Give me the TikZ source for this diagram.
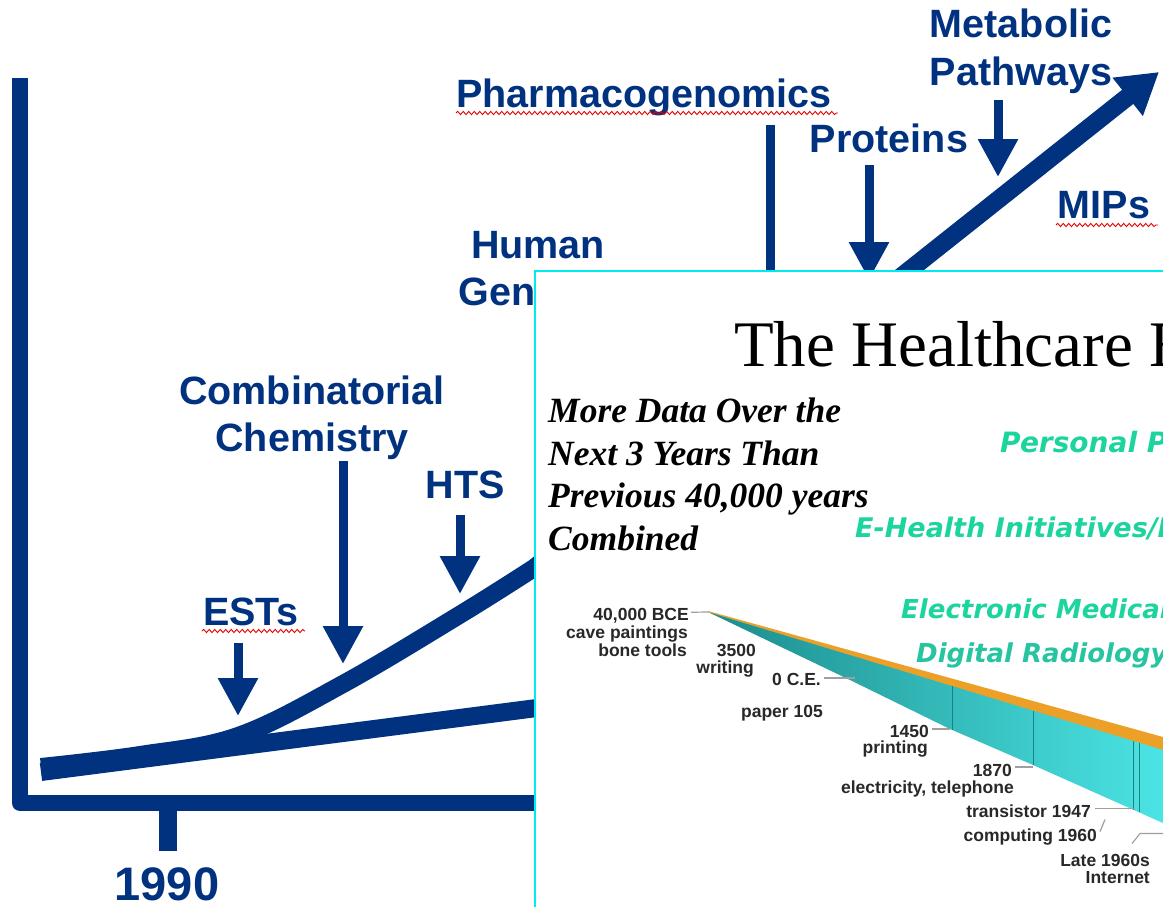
\documentclass[tikz,border=0pt]{standalone}
\usepackage{fontspec}
\setmainfont{Liberation Sans}
\newfontfamily\timesfont{Liberation Serif}
\newfontfamily\verdfont{DejaVu Sans}[BoldItalicFont={DejaVu Sans Bold Oblique}]
\usetikzlibrary{arrows.meta,decorations.pathmorphing}
\definecolor{navy}{RGB}{0,50,128}
\definecolor{insetcyan}{RGB}{0,235,240}
\definecolor{mint}{RGB}{28,212,158}
\definecolor{mintdark}{RGB}{38,196,160}
\definecolor{tealL}{RGB}{28,140,140}
\definecolor{tealR}{RGB}{75,228,228}
\definecolor{tealline}{RGB}{25,130,135}
\definecolor{orangeband}{RGB}{236,160,40}
\definecolor{tlgray}{RGB}{40,40,40}
\begin{document}
\begin{tikzpicture}[x=1pt,y=-1pt,
  lbl/.style={font=\bfseries\fontsize{39.5}{47}\selectfont, text=navy, inner sep=0pt, anchor=base},
  pointer/.style={draw=navy, line width=9pt, -{Triangle[length=38pt,width=38pt]}},
  squiggle/.style={draw=red!90!black, line width=0.9pt, decorate, decoration={snake, segment length=5.5pt, amplitude=1.6pt}},
  grn/.style={font=\verdfont\bfseries\itshape, text=mint, inner sep=0pt, anchor=base west},
  quote/.style={font=\timesfont\bfseries\itshape\fontsize{35.5}{42.5}\selectfont, inner sep=0pt, anchor=base west},
  tl/.style={font=\bfseries\fontsize{17.5}{17}\selectfont, text=tlgray, inner sep=0pt, anchor=base east},
  leader/.style={draw=gray!75, line width=1.2pt}]
\useasboundingbox (0,0) rectangle (1163,907);
\fill[white] (0,0) rectangle (1163,907);

% axes
\draw[navy, line width=16pt, line join=round] (20,78) -- (20,803) -- (545,803);
\draw[navy, line width=18pt] (168,811) -- (168,851);
\node[lbl, font=\bfseries\fontsize{47}{47}\selectfont] (year) at (167,900) {1990};

% curves
\draw[navy, line width=18pt] (41,772) -- (560,705);
\draw[navy, line width=18pt, -{Triangle[length=40pt,width=46pt]}]
  plot[smooth, tension=0.6] coordinates {(41,767) (140,755) (238,736) (343,684) (461,614) (534,568)} -- (1159,72);

% labels
\node[lbl] (pharma) at (644,107) {Pharmacogenomics};
\node[lbl] (prot) at (889,152) {Proteins};
\node[lbl] (metab1) at (1021,38) {Metabolic};
\node[lbl] (metab2) at (1021,85) {Pathways};
\node[lbl] (mips) at (1104,218) {MIPs};
\node[lbl] (human1) at (538,258) {Human};
\node[lbl] (human2) at (538,305) {Genome};
\node[lbl] (comb1) at (312,404) {Combinatorial};
\node[lbl] (comb2) at (312,451) {Chemistry};
\node[lbl] (hts) at (465,498) {HTS};
\node[lbl] (ests) at (251,625) {ESTs};

% spell-check squiggles
\draw[squiggle] (456,113) -- (838,113);
\draw[squiggle] (202,631) -- (305,631);
\draw[squiggle] (1056,225) -- (1158,225);

% pointer arrows
\coordinate (pharmaS) at (770,125); \coordinate (pharmaT) at (770,340);
\coordinate (protS) at (869,165);   \coordinate (protT) at (869,280);
\coordinate (metabS) at (998,100);  \coordinate (metabT) at (998,177);
\coordinate (combS) at (343,461);   \coordinate (combT) at (343,664);
\coordinate (htsS) at (460,515);    \coordinate (htsT) at (460,594);
\coordinate (estsS) at (238,643);   \coordinate (estsT) at (238,716);
\draw[pointer] (pharmaS) -- (pharmaT);
\draw[pointer] (protS) -- (protT);
\draw[pointer] (metabS) -- (metabT);
\draw[pointer] (combS) -- (combT);
\draw[pointer] (htsS) -- (htsT);
\draw[pointer] (estsS) -- (estsT);

% inset
\fill[white] (535,271) rectangle (1163,907);
\begin{scope}
\clip (536,272) rectangle (1163,907);
\node[font=\timesfont\fontsize{65}{65}\selectfont, inner sep=0pt, anchor=base west] (title) at (734,366) {The Healthcare E};
\node[quote] (q1) at (548,422) {More Data Over the};
\node[quote] (q2) at (548,465) {Next 3 Years Than};
\node[quote] (q3) at (548,507) {Previous 40,000 years};
\node[quote] (q4) at (548,550) {Combined};
\node[grn, font=\verdfont\bfseries\itshape\fontsize{28}{28}\selectfont] (g1) at (1000,452) {Personal Pr};
\node[grn, font=\verdfont\bfseries\itshape\fontsize{27}{27}\selectfont] (g2) at (855,537) {E-Health Initiatives/I};
\node[grn, font=\verdfont\bfseries\itshape\fontsize{26}{26}\selectfont] (g3) at (901,618) {Electronic Medical};
\node[grn, font=\verdfont\bfseries\itshape\fontsize{26}{26}\selectfont, text=mintdark] (g4) at (916,662) {Digital Radiology};

% timeline ribbon
\fill[orangeband] (708,611) -- (1163,737) -- (1163,751) -- (708,612) -- cycle;
\shade[left color=tealL, right color=tealR] (708,612) -- (1163,750) -- (1163,823) -- (1033,765) -- (950,729) -- (850,680) -- cycle;
\draw[tealline, line width=0.7pt] (952,686) -- (952,729.5);
\draw[tealline, line width=0.7pt] (1033,710.6) -- (1033,765);
\draw[tealline, line width=0.7pt] (1133,741) -- (1133,809.6);
\draw[tealline, line width=0.7pt] (1139,742.7) -- (1139,812);

% timeline labels
\coordinate (tip) at (708,612);
\coordinate (f0) at (855,0);
\coordinate (f1450) at (950,0);
\coordinate (f1870) at (1033,0);
\coordinate (ftrans) at (1135,0);
\node[tl] (bce1) at (689,620) {40,000 BCE};
\node[tl] (bce2) at (688,638) {cave paintings};
\node[tl] (bce3) at (687,656) {bone tools};
\node[tl] (y3500) at (756,656) {3500};
\node[tl] (writing) at (754,673) {writing};
\node[tl] (ce0) at (821,685) {0 C.E.};
\node[tl] (paper) at (823,717) {paper 105};
\node[tl] (y1450) at (929,737) {1450};
\node[tl] (printing) at (928,753) {printing};
\node[tl] (y1870) at (1012,776) {1870};
\node[tl] (elec) at (1014,793) {electricity, telephone};
\node[tl] (trans) at (1091,817) {transistor 1947};
\node[tl] (comp) at (1097,841) {computing 1960};
\node[tl] (late) at (1150,866) {Late 1960s};
\node[tl] (inet) at (1150,883) {Internet};
\draw[leader] ([xshift=2pt,yshift=3pt]bce1.east) -- (tip);
\draw[leader] ([xshift=3pt,yshift=1pt]ce0.east) -- ([yshift=1pt]ce0.east -| f0);
\draw[leader] ([xshift=3pt,yshift=2pt]y1450.east) -- ([yshift=2pt]y1450.east -| f1450);
\draw[leader] ([xshift=3pt,yshift=3pt]y1870.east) -- ([yshift=3pt]y1870.east -| f1870);
\draw[leader] ([xshift=4pt,yshift=2pt]trans.east) -- ([yshift=2pt]trans.east -| ftrans);
\draw[leader] ([xshift=3pt,yshift=5pt]comp.east) -- ++(5,-12);
\draw[leader] ([xshift=-18pt,yshift=10pt]late.north east) -- ++(8,-10) -- ++(40,0);
\end{scope}
\draw[insetcyan, line width=2.5pt] (535,907) -- (535,271) -- (1163,271);
\end{tikzpicture}
\end{document}
